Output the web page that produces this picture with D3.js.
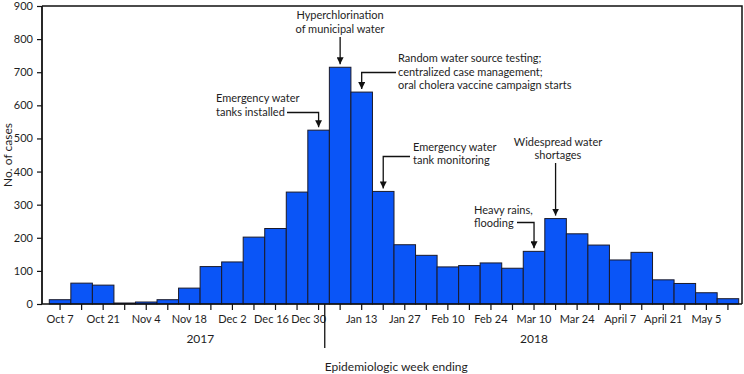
<!DOCTYPE html>
<html>
<head>
<meta charset="utf-8">
<script src="https://cdn.jsdelivr.net/npm/d3@7"></script>
<style>
  body { margin: 0; background: #fff; }
  svg text { font-family: Lato, "Open Sans", sans-serif; fill: #1e1e1e; }
</style>
</head>
<body>
<svg></svg>
<script>
window.onload = () => {

  const width = 744;
  const height = 374;

  // week ending dates, Oct 7 2017 .. May 12 2018
  const weeks = ['Oct 7', 'Oct 14', 'Oct 21', 'Oct 28', 'Nov 4', 'Nov 11', 'Nov 18', 'Nov 25',
    'Dec 2', 'Dec 9', 'Dec 16', 'Dec 23', 'Dec 30', 'Jan 6', 'Jan 13', 'Jan 20', 'Jan 27',
    'Feb 3', 'Feb 10', 'Feb 17', 'Feb 24', 'Mar 3', 'Mar 10', 'Mar 17', 'Mar 24', 'Mar 31',
    'April 7', 'April 14', 'April 21', 'April 28', 'May 5', 'May 12'];
  const cases = [13, 63, 57, 3, 6, 13, 48, 113, 127, 202, 228, 338, 525, 715, 640, 340, 179,
    147, 112, 116, 124, 108, 159, 258, 212, 178, 133, 156, 73, 62, 34, 16];
  const labelWeeks = ['Oct 7', 'Oct 21', 'Nov 4', 'Nov 18', 'Dec 2', 'Dec 16', 'Dec 30', 'Jan 13',
    'Jan 27', 'Feb 10', 'Feb 24', 'Mar 10', 'Mar 24', 'April 7', 'April 21', 'May 5'];
  const yTicks = [0, 100, 200, 300, 400, 500, 600, 700, 800, 900];
  const years = [{label: '2017', week: 'Nov 18', dx: 11}, {label: '2018', week: 'Mar 10', dx: 0}];

  // annotations: text lines, target week, text position, leader start
  const notes = [
    {lines: ['Hyperchlorination', 'of municipal water'], week: 'Jan 6', tx: 340, ty: 15, anchor: 'middle', elbow: null, y0: 37},
    {lines: ['Random water source testing;', 'centralized case management;', 'oral cholera vaccine campaign starts'], week: 'Jan 13', tx: 398, ty: 58, anchor: 'start', elbow: 396, y0: 72.5},
    {lines: ['Emergency water', 'tanks installed'], week: 'Dec 30', tx: 216, ty: 98, anchor: 'start', elbow: 287, y0: 112.5},
    {lines: ['Emergency water', 'tank monitoring'], week: 'Jan 20', tx: 413, ty: 146.5, anchor: 'start', elbow: 410, y0: 156.5},
    {lines: ['Widespread water', 'shortages'], week: 'Mar 17', tx: 558, ty: 141.5, anchor: 'middle', elbow: null, y0: 163},
    {lines: ['Heavy rains,', 'flooding'], week: 'Mar 10', tx: 474, ty: 209.5, anchor: 'start', elbow: 517, y0: 222.5}
  ];

  const left = 42, right = 742, top = 6, bottom = 304;

  const svg = d3.select('svg').attr('width', width).attr('height', height);

  const xScale = d3.scaleBand().domain(weeks).range([49.3, 738.7]).padding(0);
  const yScale = d3.scaleLinear().domain([0, 900]).range([bottom, top]);
  const bw = xScale.bandwidth();
  const cx = w => xScale(w) + bw / 2;

  svg.append('defs').append('marker')
      .attr('id', 'arrow')
      .attr('viewBox', '0 0 10 10')
      .attr('refX', 10).attr('refY', 5)
      .attr('markerWidth', 7).attr('markerHeight', 7)
      .attr('markerUnits', 'userSpaceOnUse')
      .attr('orient', 'auto')
    .append('path')
      .attr('d', 'M0,0L10,5L0,10Z')
      .attr('fill', '#111');

  // bars
  svg.selectAll('.bar')
    .data(weeks)
    .enter()
    .append('rect')
    .attr('class', 'bar')
    .attr('x', d => xScale(d))
    .attr('y', (d, i) => yScale(cases[i]))
    .attr('width', bw)
    .attr('height', (d, i) => bottom - yScale(cases[i]))
    .attr('fill', '#0a55f7')
    .attr('stroke', '#1a1a2a')
    .attr('stroke-width', 1);

  // frame (top and right)
  svg.append('path')
      .attr('d', `M${left},${top}H${right}V${bottom}`)
      .attr('fill', 'none')
      .attr('stroke', '#111')
      .attr('stroke-width', 1.5);

  // axes
  const xAxis = svg.append('g')
      .attr('transform', 'translate(0,' + bottom + ')')
      .call(d3.axisBottom(xScale).tickSize(6).tickPadding(5)
        .tickFormat(d => labelWeeks.includes(d) ? d : ''));
  xAxis.select('.domain').attr('d', `M${left},0H${right}`).attr('stroke-width', 1.5).attr('stroke', '#111');
  xAxis.selectAll('.tick line').attr('stroke', '#111').attr('stroke-width', 1.2);
  xAxis.selectAll('.tick text')
      .attr('font-size', 11)
      .attr('dx', d => d === 'Dec 30' ? -10 : d === 'Dec 16' ? -4 : 0);

  const yAxis = svg.append('g')
      .attr('transform', 'translate(' + left + ',0)')
      .call(d3.axisLeft(yScale).tickValues(yTicks).tickSize(5).tickPadding(4));
  yAxis.select('.domain').attr('d', `M0,${top}V${bottom}`).attr('stroke-width', 1.8).attr('stroke', '#111');
  yAxis.selectAll('.tick line').attr('stroke', '#111').attr('stroke-width', 1.2);
  yAxis.selectAll('.tick text').attr('font-size', 11);

  // year divider (Jan 1 falls 2 days after week ending Dec 30)
  const divX = cx('Dec 30') + bw * 2 / 7;
  svg.append('line')
      .attr('x1', divX).attr('x2', divX)
      .attr('y1', bottom).attr('y2', 348)
      .attr('stroke', '#111').attr('stroke-width', 1.3);

  svg.selectAll('.year')
    .data(years)
    .enter()
    .append('text')
    .attr('class', 'year')
    .attr('x', d => cx(d.week) + d.dx)
    .attr('y', 343)
    .attr('text-anchor', 'middle')
    .attr('font-size', 12)
    .text(d => d.label);

  svg.append('text')
      .attr('x', divX)
      .attr('y', 371)
      .attr('font-size', 12)
      .text('Epidemiologic week ending');

  svg.append('text')
      .attr('transform', 'translate(12,155) rotate(-90)')
      .attr('text-anchor', 'middle')
      .attr('font-size', 12)
      .text('No. of cases');

  // annotations
  const ng = svg.selectAll('.note')
    .data(notes)
    .enter()
    .append('g')
    .attr('class', 'note');

  ng.append('text')
    .attr('text-anchor', d => d.anchor)
    .attr('font-size', 11)
    .selectAll('tspan')
    .data(d => d.lines.map(l => ({l: l, d: d})))
    .enter()
    .append('tspan')
    .attr('x', o => o.d.tx)
    .attr('y', (o, i) => o.d.ty + 4 + i * 13.5)
    .text(o => o.l);

  ng.append('path')
    .attr('d', d => {
      const x = cx(d.week);
      const yEnd = yScale(cases[weeks.indexOf(d.week)]) - 3;
      if (d.elbow === null) return `M${x},${d.y0}V${yEnd}`;
      return `M${d.elbow},${d.y0}H${x}V${yEnd}`;
    })
    .attr('fill', 'none')
    .attr('stroke', '#111')
    .attr('stroke-width', 1.3)
    .attr('marker-end', 'url(#arrow)');

};
</script>
</body>
</html>
